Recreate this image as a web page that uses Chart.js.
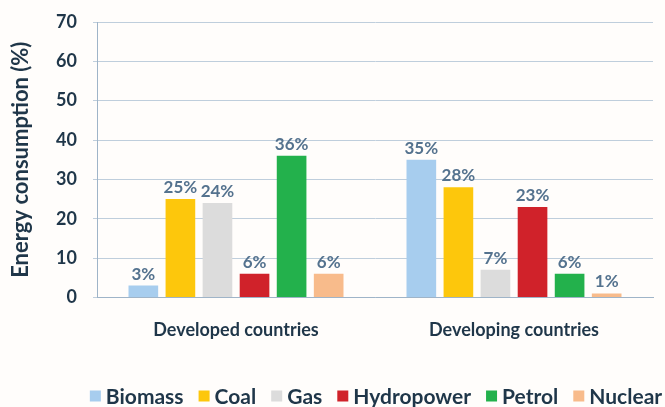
<!DOCTYPE html>
<html>
<head>
<meta charset="utf-8">
<script src="https://cdn.jsdelivr.net/npm/chart.js@4/dist/chart.umd.min.js"></script>
<style>
  html, body { margin: 0; padding: 0; background: #fffdfb; }
  #wrap { width: 665px; height: 407px; position: relative; }
</style>
</head>
<body>
<div id="wrap"><canvas id="c" width="665" height="407"></canvas></div>
<script>
const categories = ['Developed countries', 'Developing countries'];
const sources = ['Biomass', 'Coal', 'Gas', 'Hydropower', 'Petrol', 'Nuclear'];
const biomass = [3, 35];
const coal = [25, 28];
const gas = [24, 7];
const hydropower = [6, 23];
const petrol = [36, 6];
const nuclear = [6, 1];
const yTicks = [0, 10, 20, 30, 40, 50, 60, 70];

const seriesValues = [biomass, coal, gas, hydropower, petrol, nuclear];
const seriesColors = ['#a7cdee', '#fdc70c', '#dcdcdc', '#d0222a', '#23b14c', '#f8bb8b'];

const FONT = 'Lato, "Open Sans", sans-serif';
const textColor = '#1f3649';
const labelColor = '#54728e';

// Percent labels above each bar
const valueLabels = {
  id: 'valueLabels',
  afterDatasetsDraw(chart) {
    const ctx = chart.ctx;
    ctx.save();
    ctx.font = 'bold 17px ' + FONT;
    ctx.fillStyle = labelColor;
    ctx.textAlign = 'center';
    ctx.textBaseline = 'bottom';
    chart.data.datasets.forEach((ds, i) => {
      chart.getDatasetMeta(i).data.forEach((bar, j) => {
        ctx.fillText(ds.data[j] + '%', bar.x, bar.y - 3);
      });
    });
    ctx.restore();
  }
};

// Compact legend row along the bottom edge
const bottomLegend = {
  id: 'bottomLegend',
  afterDraw(chart) {
    const ctx = chart.ctx;
    const box = 11, gap = 5, spacing = 15, cy = 396;
    ctx.save();
    ctx.font = 'bold 21px ' + FONT;
    ctx.textBaseline = 'middle';
    ctx.textAlign = 'left';
    const items = chart.data.datasets.map(ds => ({
      text: ds.label, color: ds.backgroundColor,
      w: box + gap + ctx.measureText(ds.label).width
    }));
    const total = items.reduce((s, it) => s + it.w, 0) + spacing * (items.length - 1);
    let x = 376 - total / 2;
    items.forEach(it => {
      ctx.fillStyle = it.color;
      ctx.fillRect(x, cy - box / 2, box, box);
      ctx.fillStyle = textColor;
      ctx.fillText(it.text, x + box + gap, cy + 1);
      x += it.w + spacing;
    });
    ctx.restore();
  }
};

new Chart(document.getElementById('c'), {
  type: 'bar',
  data: {
    labels: categories,
    datasets: sources.map((name, i) => ({
      label: name,
      data: seriesValues[i],
      backgroundColor: seriesColors[i],
      borderWidth: 0,
      categoryPercentage: 0.8,
      barPercentage: 0.8
    }))
  },
  options: {
    responsive: false,
    animation: false,
    devicePixelRatio: 1,
    layout: { padding: { left: 0, right: 12, top: 22, bottom: 52 } },
    plugins: {
      legend: { display: false },
      tooltip: { enabled: false }
    },
    scales: {
      x: {
        grid: { display: false },
        border: { color: '#9fb4c8', width: 1 },
        ticks: {
          color: textColor,
          padding: 14,
          font: { family: FONT, size: 18, weight: 'bold' }
        }
      },
      y: {
        min: 0,
        max: 70,
        afterBuildTicks(axis) { axis.ticks = yTicks.map(v => ({ value: v })); },
        afterFit(axis) {
          axis.width = 97;
          axis.paddingTop = 0;
          axis.paddingBottom = 0;
        },
        grid: { color: '#bfcedc', tickLength: 4, drawTicks: true },
        border: { color: '#9fb4c8', width: 1 },
        ticks: {
          color: textColor,
          padding: 16,
          font: { family: FONT, size: 18, weight: 'bold' }
        },
        title: {
          display: true,
          text: 'Energy consumption (%)',
          color: textColor,
          padding: { top: 8, bottom: 0 },
          font: { family: FONT, size: 22, weight: 'bold' }
        }
      }
    }
  },
  plugins: [valueLabels, bottomLegend]
});
</script>
</body>
</html>
